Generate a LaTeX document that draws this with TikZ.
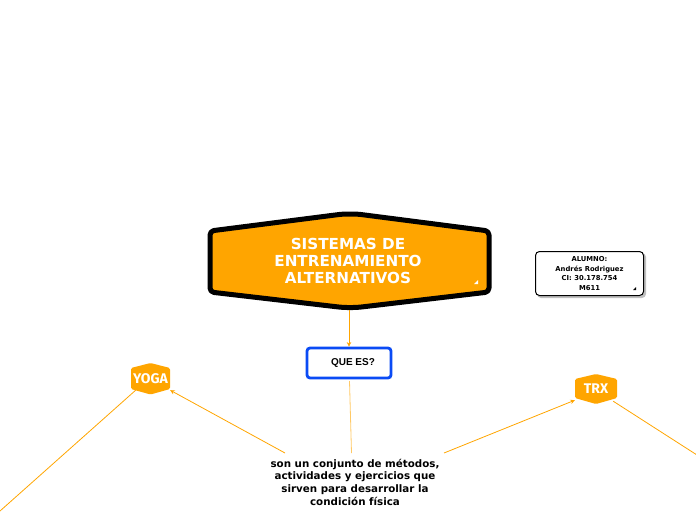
\documentclass[tikz,border=0pt]{standalone}
\usepackage{fontspec}
\setmainfont{DejaVu Sans}
\newfontfamily\arialf{Liberation Sans}
\newfontfamily\tagf{Fira Sans}
\usetikzlibrary{arrows.meta,calc}
\definecolor{mmorange}{HTML}{FFA500}
\definecolor{mmblue}{HTML}{0A4BF5}
\tikzset{
  link/.style={draw=mmorange, line width=0.8pt},
  linkarrow/.style={link, -{Stealth[length=4.5pt,width=4.5pt]}},
  tagtext/.style={text=white, font=\tagf\bfseries\fontsize{14}{14}\selectfont, inner sep=0pt},
}
\begin{document}
\begin{tikzpicture}[x=1pt,y=-1pt]
\useasboundingbox (0,0) rectangle (696,520);

% main node
\draw[fill=mmorange, draw=black, line width=5pt, rounded corners=4pt, line join=round]
  (210,231) -- (343,214) -- (357,214) -- (489,231) -- (489,292) -- (357,307.5) -- (343,307.5) -- (210,292) -- cycle;
\node[text=white, font=\bfseries\fontsize{15.2}{17}\selectfont, align=center, inner sep=0pt,
      minimum width=279pt, minimum height=93pt] (main) at (348,261)
  {SISTEMAS DE\\ENTRENAMIENTO\\ALTERNATIVOS};
\fill[white] (478,280) -- (478,284) -- (474,284) -- cycle;

% alumno
\fill[black!25, rounded corners=4pt] (537,253) rectangle (646,298);
\node[draw=black, fill=white, line width=1pt, rounded corners=4pt, minimum width=108pt, minimum height=44pt,
      font=\bfseries\fontsize{6.8}{9.4}\selectfont, align=center, inner sep=0pt] (alumno) at (589.5,273.5)
  {ALUMNO:\\Andrés Rodriguez\\CI: 30.178.754\\M611};
\fill[black] (636,287) -- (636,290) -- (633,290) -- cycle;

% que es
\node[draw=mmblue, line width=2.8pt, rounded corners=3pt, fill=white, minimum width=84pt, minimum height=30pt,
      font=\arialf\bfseries\fontsize{10}{12}\selectfont, inner sep=0pt] (que) at (349,363)
  {\hspace*{8pt}QUE ES?};

% description
\node[font=\bfseries\fontsize{10.3}{12.7}\selectfont, align=center, inner sep=0pt] (desc) at (355,482)
  {son un conjunto de métodos,\\actividades y ejercicios que\\sirven para desarrollar la\\condición física};

% YOGA tag
\node[tagtext, minimum width=39pt, minimum height=22pt] (yoga) at (150.5,379) {};
\fill[mmorange, rounded corners=1.5pt] (131,368) -- (150.5,363) -- (170,368) -- (170,389) -- (150.5,394.5) -- (131,389) -- cycle;
\node[tagtext] at (150.5,379) {YOGA};

% TRX tag
\node[tagtext, minimum width=42pt, minimum height=22pt] (trx) at (596,389) {};
\fill[mmorange, rounded corners=1.5pt] (575,379) -- (596,374) -- (617,379) -- (617,398) -- (596,404) -- (575,398) -- cycle;
\node[tagtext] at (596,389) {TRX};

% connectors
\coordinate (mb) at (349,310);
\coordinate (dl) at (285,453);
\coordinate (dr) at (444,453);
\coordinate (qb) at (349.5,381);
\coordinate (dt) at (351.5,453);
\coordinate (offl) at (0,511);
\coordinate (offr) at (697,455);
\draw[linkarrow] (mb) -- (que.north);
\draw[draw=mmorange!60, line width=0.8pt] (qb) -- (dt);
\draw[linkarrow] (dl) -- (yoga.south east);
\draw[linkarrow] (dr) -- (trx.south west);
\draw[link] (yoga.south west) ++(6,-1) -- (offl);
\draw[link] (trx.south east) ++(-4,1) -- (offr);
\end{tikzpicture}
\end{document}
